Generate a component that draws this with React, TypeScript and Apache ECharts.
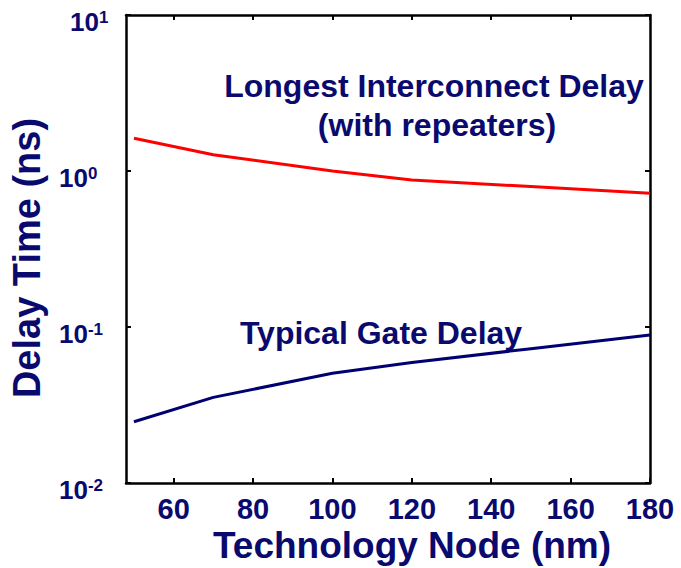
import React, { useEffect, useRef } from "react";
import * as echarts from "echarts";

const nodes = [50, 70, 100, 120, 150, 180];
const interconnectDelay = [1.62, 1.27, 1.0, 0.876, 0.795, 0.72];
const gateDelay = [0.0247, 0.0354, 0.0505, 0.0592, 0.0726, 0.0889];
const xTicks = [60, 80, 100, 120, 140, 160, 180];

const NAVY = "#0a0a6e";
const FONT = "'Liberation Sans', Arial, sans-serif";

export default function App() {
  const ref = useRef<HTMLDivElement>(null);
  useEffect(() => {
    if (!ref.current) return;
    const chart = echarts.init(ref.current, null, { renderer: "svg" });
    const axisLineStyle = { color: "#000", width: 2.5 };
    chart.setOption({
      animation: false,
      backgroundColor: "#fff",
      grid: { left: 126, right: 31, top: 15, bottom: 85, containLabel: false },
      xAxis: [
        {
          type: "value",
          min: 48,
          max: 180,
          position: "bottom",
          splitLine: { show: false },
          axisLine: { lineStyle: axisLineStyle },
          axisTick: { inside: true, length: 5, customValues: xTicks, lineStyle: { color: "#000", width: 2 } },
          axisLabel: {
            customValues: xTicks,
            margin: 11,
            fontSize: 29,
            fontWeight: "bold",
            fontFamily: FONT,
            color: NAVY,
          },
        },
        {
          type: "value",
          min: 48,
          max: 180,
          position: "top",
          splitLine: { show: false },
          axisLine: { lineStyle: axisLineStyle },
          axisTick: { inside: true, length: 5, customValues: xTicks, lineStyle: { color: "#000", width: 2 } },
          axisLabel: { show: false },
        },
      ],
      yAxis: [
        {
          type: "log",
          logBase: 10,
          min: 0.01,
          max: 10,
          position: "left",
          splitLine: { show: false },
          minorTick: { show: false },
          axisLine: { lineStyle: axisLineStyle },
          axisTick: { inside: true, length: 5, lineStyle: { color: "#000", width: 2 } },
          axisLabel: {
            align: "left",
            margin: 67,
            padding: [14, 0, 0, 0],
            formatter: (v: number) => {
              const e = Math.round(Math.log10(v));
              return e === 1 ? `{b1|10}{s|${e}}` : `{b|10}{s|${e}}`;
            },
            rich: {
              b: { fontSize: 26, fontWeight: "bold", fontFamily: FONT, color: NAVY, lineHeight: 26 },
              b1: { fontSize: 26, fontWeight: "bold", fontFamily: FONT, color: NAVY, lineHeight: 26, padding: [0, 0, 0, 11] },
              s: { fontSize: 17, fontWeight: "bold", fontFamily: FONT, color: NAVY, lineHeight: 17, verticalAlign: "top" },
            },
          },
        },
        {
          type: "log",
          logBase: 10,
          min: 0.01,
          max: 10,
          position: "right",
          splitLine: { show: false },
          minorTick: { show: false },
          axisLine: { lineStyle: axisLineStyle },
          axisTick: { inside: true, length: 5, lineStyle: { color: "#000", width: 2 } },
          axisLabel: { show: false },
        },
      ],
      series: [
        {
          type: "line",
          name: "Longest Interconnect Delay (with repeaters)",
          xAxisIndex: 0,
          yAxisIndex: 0,
          data: nodes.map((n, i) => [n, interconnectDelay[i]]),
          showSymbol: false,
          lineStyle: { color: "#ff0000", width: 3 },
        },
        {
          type: "line",
          name: "Typical Gate Delay",
          xAxisIndex: 0,
          yAxisIndex: 0,
          data: nodes.map((n, i) => [n, gateDelay[i]]),
          showSymbol: false,
          lineStyle: { color: "#000070", width: 3 },
        },
      ],
      graphic: [
        {
          type: "text",
          x: 434,
          y: 86,
          style: { text: "Longest Interconnect Delay", font: `bold 32px ${FONT}`, fill: NAVY, align: "center", verticalAlign: "middle" },
        },
        {
          type: "text",
          x: 437,
          y: 125,
          style: { text: "(with repeaters)", font: `bold 32px ${FONT}`, fill: NAVY, align: "center", verticalAlign: "middle" },
        },
        {
          type: "text",
          x: 381,
          y: 333,
          style: { text: "Typical Gate Delay", font: `bold 32px ${FONT}`, fill: NAVY, align: "center", verticalAlign: "middle" },
        },
        {
          type: "text",
          x: 412,
          y: 545,
          style: { text: "Technology Node (nm)", font: `bold 37px ${FONT}`, fill: NAVY, align: "center", verticalAlign: "middle" },
        },
        {
          type: "text",
          x: 27,
          y: 258,
          rotation: Math.PI / 2,
          style: { text: "Delay Time (ns)", font: `bold 38px ${FONT}`, fill: NAVY, align: "center", verticalAlign: "middle" },
        },
      ],
    });
    return () => chart.dispose();
  }, []);
  return <div ref={ref} style={{ width: 681, height: 568, position: "absolute", left: 0, top: 0 }} />;
}
